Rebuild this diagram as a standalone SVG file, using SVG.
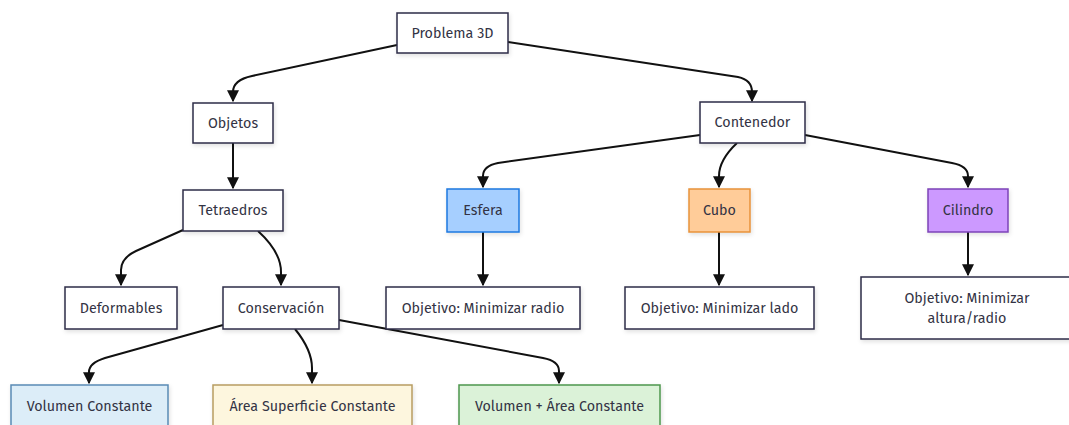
<svg xmlns="http://www.w3.org/2000/svg" width="1069" height="425" viewBox="0 0 1069 425">
  <style>
    .node rect { fill: #ffffff; stroke: #2e2c48; stroke-width: 1.5; filter: url(#shadow); }
    .node text { font-family: "Fira Sans", "Noto Sans", "Open Sans", sans-serif; font-size: 14.3px; fill: #333344; text-anchor: middle; dominant-baseline: central; }
    .edges path { fill: none; stroke: #111111; stroke-width: 2; marker-end: url(#arrow); }
    #esfera rect { fill: #a6cfff; stroke: #1e78e0; }
    #cubo rect { fill: #ffcc99; stroke: #e8923a; }
    #cilindro rect { fill: #cc99ff; stroke: #7d44b8; }
    #volumen rect { fill: #dcedf8; stroke: #5a8bb5; }
    #area rect { fill: #fdf6de; stroke: #b89d62; }
    #volarea rect { fill: #dbf2d8; stroke: #4e974c; }
  </style>
  <defs>
    <marker id="arrow" viewBox="0 0 10 10" refX="9" refY="5" markerWidth="6" markerHeight="6" markerUnits="strokeWidth" orient="auto">
      <path d="M0,0 L10,5 L0,10 z" fill="#111111"/>
    </marker>
    <filter id="shadow" x="-10%" y="-20%" width="130%" height="150%">
      <feDropShadow dx="1" dy="2" stdDeviation="2" flood-color="#000000" flood-opacity="0.12"/>
    </filter>
  </defs>

  <rect width="1069" height="425" fill="#ffffff"/>

  <g class="edges">
    <path d="M397,45 L252,76 Q233,80 233,92 L233,101"/>
    <path d="M508,42 L738,77 Q752,80 752,92 L752,101"/>
    <path d="M233,143 L233,188"/>
    <path d="M700,135 L498,163 Q483,166 483,176 L483,187"/>
    <path d="M737,143 Q719,160 719,176 L719,187"/>
    <path d="M805,135 L952,163 Q968,166 968,176 L968,187"/>
    <path d="M183,230 L136,251 Q121,258 121,270 L121,285"/>
    <path d="M258,231 Q281,252 281,272 L281,285"/>
    <path d="M483,232 L483,285"/>
    <path d="M719,232 L719,285"/>
    <path d="M968,232 L968,275"/>
    <path d="M223,325 L105,358 Q89,363 89,372 L89,383"/>
    <path d="M295,329 Q312,350 312,368 L312,383"/>
    <path d="M339,320 L543,358 Q559,361 559,371 L559,383"/>
  </g>

  <g id="problema" class="node"><rect x="397" y="13" width="111" height="40"/><text x="452.5" y="33">Problema 3D</text></g>
  <g id="objetos" class="node"><rect x="193" y="103" width="80" height="40"/><text x="233" y="123">Objetos</text></g>
  <g id="contenedor" class="node"><rect x="700" y="102" width="105" height="41"/><text x="752.5" y="122.5">Contenedor</text></g>
  <g id="tetraedros" class="node"><rect x="183" y="190" width="100" height="41"/><text x="233" y="210.5">Tetraedros</text></g>
  <g id="esfera" class="node"><rect x="447" y="189" width="72" height="43"/><text x="483" y="210.5">Esfera</text></g>
  <g id="cubo" class="node"><rect x="689" y="189" width="61" height="43"/><text x="719.5" y="210.5">Cubo</text></g>
  <g id="cilindro" class="node"><rect x="928" y="189" width="80" height="43"/><text x="968" y="210.5">Cilindro</text></g>
  <g id="deformables" class="node"><rect x="65" y="287" width="112" height="42"/><text x="121" y="308">Deformables</text></g>
  <g id="conservacion" class="node"><rect x="223" y="287" width="116" height="42"/><text x="281" y="308">Conservación</text></g>
  <g id="radio" class="node"><rect x="386" y="287" width="194" height="42"/><text x="483" y="308">Objetivo: Minimizar radio</text></g>
  <g id="lado" class="node"><rect x="625" y="287" width="189" height="42"/><text x="719.5" y="308">Objetivo: Minimizar lado</text></g>
  <g id="altura" class="node"><rect x="861" y="277" width="212" height="62"/><text x="967" y="298">Objetivo: Minimizar</text><text x="967" y="318">altura/radio</text></g>
  <g id="volumen" class="node"><rect x="11" y="385" width="157" height="44"/><text x="89.5" y="406.5">Volumen Constante</text></g>
  <g id="area" class="node"><rect x="213" y="385" width="199" height="44"/><text x="312.5" y="406.5">Área Superficie Constante</text></g>
  <g id="volarea" class="node"><rect x="459" y="385" width="201" height="44"/><text x="559.5" y="406.5">Volumen + Área Constante</text></g>
</svg>
